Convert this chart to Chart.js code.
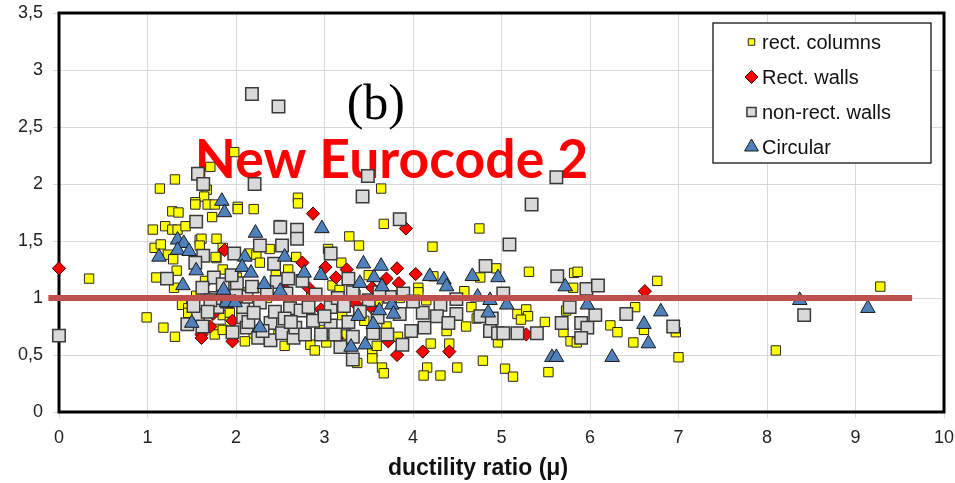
<!DOCTYPE html>
<html>
<head>
<meta charset="utf-8">
<script src="https://cdn.jsdelivr.net/npm/chart.js@4.4.1/dist/chart.umd.min.js"></script>
<style>
  html, body { margin: 0; padding: 0; background: #fff; }
  #wrap { width: 955px; height: 483px; }
</style>
</head>
<body>
<div id="wrap"><canvas id="ductilityChart" width="955" height="483"></canvas></div>
<script>
// [ductility ratio, test / prediction] per specimen
const rectColumns = [
  [0.34, 1.17], [0.99, 0.83], [1.18, 0.74], [1.31, 0.66],
  [1.06, 1.60], [1.20, 1.63], [1.28, 1.60], [1.34, 1.60], [1.43, 1.63],
  [1.08, 1.44], [1.15, 1.47], [1.23, 1.38], [1.29, 1.34], [1.33, 1.24], [1.10, 1.18], [1.30, 1.09],
  [1.14, 1.96], [1.31, 2.04], [1.28, 1.76], [1.35, 1.75],
  [1.71, 2.15], [1.98, 2.28], [1.67, 1.95], [1.64, 1.89], [1.54, 1.84], [1.54, 1.82], [1.68, 1.82],
  [1.76, 1.82], [1.73, 1.71], [2.02, 1.80], [2.02, 1.78], [2.20, 1.78],
  [2.70, 1.88], [2.70, 1.83], [2.49, 1.64],
  [1.59, 1.51], [1.61, 1.52], [1.78, 1.52], [1.59, 1.46], [1.78, 1.35], [1.85, 1.44], [1.77, 1.36],
  [2.16, 1.39], [2.23, 1.38], [2.38, 1.43], [2.27, 1.31], [2.68, 1.36], [2.59, 1.25], [1.85, 1.25],
  [2.01, 1.18], [2.28, 1.09],
  [1.39, 0.94], [1.46, 0.91], [1.46, 0.87], [1.85, 0.85], [1.93, 0.87], [1.93, 0.79], [1.81, 0.73],
  [1.76, 0.68], [1.85, 0.72], [2.20, 0.69], [2.48, 0.68],
  [2.84, 0.59], [2.89, 0.54], [3.02, 0.61], [3.25, 0.68],
  [3.28, 1.54], [3.04, 1.43], [3.39, 1.46], [3.19, 1.31], [3.09, 1.11], [3.17, 1.07],
  [3.64, 1.96], [3.67, 1.65], [4.22, 1.45], [4.75, 1.61],
  [4.23, 1.19], [4.06, 1.09], [4.06, 1.05], [4.94, 1.26], [4.76, 1.18], [5.31, 1.23], [5.82, 1.22],
  [5.86, 1.23], [5.81, 1.09],
  [4.58, 1.06], [4.66, 0.92], [4.60, 0.75], [4.72, 0.82], [5.18, 0.86], [5.28, 0.90], [5.30, 0.84],
  [5.22, 0.81], [5.49, 0.79], [4.96, 0.61],
  [4.79, 0.45], [5.04, 0.38], [5.13, 0.31], [5.53, 0.35], [4.50, 0.39],
  [4.38, 0.71], [4.41, 0.60], [4.20, 0.60], [4.16, 0.39], [4.12, 0.32], [4.31, 0.32],
  [3.54, 0.52], [3.54, 0.47], [3.65, 0.39], [3.67, 0.34], [3.37, 0.43], [3.59, 0.58], [3.83, 0.66],
  [5.70, 0.70], [5.78, 0.62], [5.85, 0.61], [5.73, 0.89], [6.23, 0.76], [6.31, 0.70],
  [6.51, 0.92], [6.76, 1.15], [6.61, 0.72], [6.49, 0.61], [6.97, 0.70], [7.00, 0.48],
  [8.10, 0.54], [9.28, 1.10],
  [1.55, 1.02], [1.70, 0.97], [2.05, 1.05], [2.35, 1.00], [2.60, 0.98], [2.85, 1.02], [3.10, 0.98],
  [3.35, 1.03], [3.60, 0.97], [3.85, 1.00], [4.15, 0.98], [2.40, 0.80], [2.95, 0.72], [3.45, 0.80],
  [3.70, 0.75], [2.10, 0.62], [2.55, 0.58], [3.20, 0.85], [1.65, 1.15], [2.45, 1.20], [3.50, 1.20]
];

const rectWalls = [
  [0.00, 1.26], [2.87, 1.74], [3.92, 1.61], [1.87, 1.42], [2.75, 1.31], [3.01, 1.27], [3.13, 1.18],
  [3.25, 1.25], [2.82, 1.09], [3.82, 1.26], [4.03, 1.21], [3.84, 1.13], [3.70, 1.17], [3.54, 1.09],
  [3.54, 0.91], [2.96, 0.90], [1.74, 0.86], [1.71, 0.75], [1.61, 0.68], [1.61, 0.65], [1.96, 0.80],
  [1.96, 0.62], [3.14, 0.65], [3.72, 0.62], [3.82, 0.50], [4.11, 0.53], [4.41, 0.53], [5.28, 0.68],
  [6.62, 1.06], [2.55, 1.08], [3.35, 0.95]
];

const nonRectWalls = [
  [0.00, 0.67], [2.18, 2.79], [2.48, 2.68], [1.57, 2.09], [1.63, 2.00], [2.21, 2.00], [1.55, 1.67],
  [2.50, 1.62], [2.69, 1.60], [2.69, 1.52],
  [3.49, 2.07], [3.43, 1.89], [3.85, 1.69], [5.62, 2.06], [5.34, 1.82], [5.09, 1.47], [3.07, 1.39],
  [1.63, 1.37], [1.98, 1.39], [2.27, 1.46], [2.52, 1.46], [2.43, 1.30], [1.54, 1.31], [1.22, 1.17],
  [1.75, 1.18], [1.62, 1.09], [2.01, 1.13],
  [2.46, 1.14], [2.59, 1.17], [3.27, 1.17], [4.82, 1.28], [5.63, 1.19], [5.96, 1.08], [6.09, 1.11],
  [3.32, 1.05], [3.74, 1.01], [3.89, 1.04], [4.31, 0.94], [4.49, 0.99], [5.02, 1.04],
  [1.57, 0.85], [1.45, 0.77], [1.62, 0.75], [1.96, 0.70], [2.08, 0.83], [2.08, 0.92], [1.79, 0.92],
  [1.77, 1.00], [1.71, 0.98],
  [2.12, 0.74], [2.14, 0.79], [2.25, 0.65], [2.39, 0.63], [2.39, 0.78], [2.52, 0.69], [2.65, 0.65],
  [2.67, 0.74], [2.78, 0.68], [2.87, 0.80],
  [2.27, 0.96], [2.44, 0.88], [2.61, 0.91], [2.73, 0.89], [2.12, 1.01], [2.57, 1.04], [3.07, 0.92],
  [3.07, 0.76], [3.27, 0.79], [2.96, 0.68], [3.18, 0.57],
  [3.32, 0.66], [3.32, 0.46], [3.71, 0.68], [3.88, 0.59], [3.85, 0.86], [3.98, 0.71], [4.13, 0.74],
  [4.11, 0.87], [4.27, 0.84], [4.49, 0.86],
  [4.76, 0.84], [4.89, 0.82], [4.87, 0.71], [4.96, 0.69], [5.02, 0.69], [5.18, 0.69], [5.40, 0.69],
  [5.77, 0.92], [5.68, 0.78], [5.90, 0.78], [5.97, 0.74], [5.90, 0.65], [6.06, 0.85], [6.41, 0.86],
  [6.94, 0.75], [8.42, 0.85],
  [2.35, 1.05], [2.90, 1.03], [3.15, 1.00], [3.50, 0.98], [2.00, 1.02], [1.90, 0.97], [3.40, 0.88],
  [2.55, 0.82], [2.20, 0.87], [3.60, 0.83], [4.00, 0.97], [1.85, 1.12],
  [1.52, 0.93], [1.68, 0.88], [2.30, 0.71], [2.62, 0.79], [2.82, 0.92], [3.00, 0.84], [3.22, 0.93],
  [3.55, 0.69], [3.12, 0.68], [2.18, 1.10], [2.75, 1.15], [3.62, 1.05], [4.40, 0.78], [1.95, 1.20]
];

const circular = [
  [1.84, 1.85], [1.87, 1.75], [2.22, 1.57], [2.97, 1.61],
  [1.34, 1.51], [1.41, 1.48], [1.34, 1.42], [1.47, 1.41], [1.13, 1.36], [2.10, 1.36], [2.07, 1.27],
  [2.55, 1.36], [1.55, 1.24], [1.40, 1.11], [2.17, 1.22], [2.32, 1.12], [2.50, 1.06], [2.77, 1.22],
  [2.96, 1.20], [1.86, 1.07], [1.89, 0.96], [1.99, 0.96], [1.50, 0.78], [2.27, 0.74],
  [3.44, 1.30], [3.64, 1.28], [3.40, 1.13], [3.56, 1.18], [3.65, 1.10], [4.19, 1.19], [4.35, 1.16],
  [4.38, 1.10], [4.67, 1.19], [4.96, 1.18],
  [3.76, 0.94], [3.62, 0.89], [3.78, 0.86], [3.38, 0.84], [3.55, 0.77], [3.46, 0.59], [3.30, 0.57],
  [4.73, 1.01], [4.87, 0.98], [5.06, 0.94], [4.85, 0.87],
  [5.57, 0.48], [5.62, 0.48], [6.25, 0.48], [5.72, 1.10], [5.97, 0.94], [6.80, 0.88], [6.61, 0.77],
  [6.66, 0.60], [8.37, 0.98], [9.14, 0.91]
];

// unity reference line
const unityLine = [[-0.12, 1.0], [9.64, 1.0]];

const seriesNames = ["rect. columns", "Rect. walls", "non-rect. walls", "Circular"];
const xRange = [0, 10, 1];
const yRange = [0, 3.5, 0.5];

function toPoints(list) {
  return list.map((p) => ({ x: p[0], y: p[1] }));
}

const markers = [
  { style: "rect", fill: "#ffff00", stroke: "#262626", width: 1, radius: 6.6, legendRadius: 4.6 },
  { style: "rectRot", fill: "#ff0000", stroke: "#3a0000", width: 1, radius: 6.6, legendRadius: 6.5 },
  { style: "rect", fill: "#d9d9d9", stroke: "#3a3a3a", width: 1.5, radius: 8.8, legendRadius: 6.5 },
  { style: "triangle", fill: "#4f81bd", stroke: "#1a1a1a", width: 1, radius: 8.4, legendRadius: 8 },
];

function drawMarker(ctx, m, x, y, r) {
  ctx.beginPath();
  if (m.style === "rect") {
    const s = r * Math.SQRT1_2;
    ctx.rect(x - s, y - s, 2 * s, 2 * s);
  } else if (m.style === "rectRot") {
    ctx.moveTo(x, y - r);
    ctx.lineTo(x + r, y);
    ctx.lineTo(x, y + r);
    ctx.lineTo(x - r, y);
    ctx.closePath();
  } else {
    const h = r * Math.sqrt(3) / 2;
    ctx.moveTo(x, y - r);
    ctx.lineTo(x + h, y + r / 2);
    ctx.lineTo(x - h, y + r / 2);
    ctx.closePath();
  }
  ctx.fillStyle = m.fill;
  ctx.fill();
  ctx.lineWidth = m.width;
  ctx.strokeStyle = m.stroke;
  ctx.stroke();
}

// frame and the in-plot captions, under the markers
const framePlugin = {
  id: "framePlugin",
  beforeDatasetsDraw(chart) {
    const { ctx, chartArea: a, scales } = chart;
    ctx.save();
    ctx.strokeStyle = "#000";
    ctx.lineWidth = 3;
    ctx.strokeRect(a.left, a.top, a.right - a.left, a.bottom - a.top);

    ctx.fillStyle = "#000";
    ctx.font = '50px "Liberation Serif"';
    ctx.textBaseline = "alphabetic";
    ctx.fillText("(b)", scales.x.getPixelForValue(3.25), scales.y.getPixelForValue(2.57));

    const left = scales.x.getPixelForValue(1.535);
    const right = scales.x.getPixelForValue(5.98);
    ctx.font = "bold 53px Lato";
    const w = ctx.measureText("New Eurocode 2").width;
    ctx.translate(left, scales.y.getPixelForValue(2.05));
    ctx.scale((right - left) / w, 1);
    ctx.fillStyle = "#ff0000";
    ctx.fillText("New Eurocode 2", 0, 0);
    ctx.restore();
  },
  afterDraw(chart) {
    const { ctx } = chart;
    ctx.save();
    // legend box
    const bx = 713, by = 23, bw = 218, bh = 140;
    ctx.fillStyle = "#fff";
    ctx.fillRect(bx, by, bw, bh);
    ctx.strokeStyle = "#000";
    ctx.lineWidth = 1.2;
    ctx.strokeRect(bx, by, bw, bh);
    ctx.font = '20px "Liberation Sans"';
    ctx.textBaseline = "middle";
    seriesNames.forEach((name, i) => {
      const cy = by + 19 + i * 35;
      drawMarker(ctx, markers[i], bx + 38.5, cy, markers[i].legendRadius);
      ctx.fillStyle = "#111";
      ctx.fillText(name, bx + 49, cy + 1);
    });

    // x axis title
    ctx.font = 'bold 23px "Liberation Sans"';
    ctx.textAlign = "center";
    ctx.textBaseline = "alphabetic";
    ctx.fillStyle = "#111";
    ctx.fillText("ductility ratio (\u03bc)", 478, 475);
    ctx.restore();
  },
};

function scatterSet(i, list, order) {
  const m = markers[i];
  return {
    label: seriesNames[i],
    data: toPoints(list),
    pointStyle: m.style,
    pointRadius: m.radius,
    pointBackgroundColor: m.fill,
    pointBorderColor: m.stroke,
    pointBorderWidth: m.width,
    showLine: false,
    clip: false,
    order: order,
  };
}

const ctx = document.getElementById("ductilityChart");

new Chart(ctx, {
  type: "scatter",
  data: {
    datasets: [
      {
        type: "line",
        label: "unity",
        data: toPoints(unityLine),
        borderColor: "#c0504d",
        borderWidth: 6,
        pointRadius: 0,
        fill: false,
        clip: false,
        order: 0,
      },
      scatterSet(3, circular, 1),
      scatterSet(2, nonRectWalls, 2),
      scatterSet(1, rectWalls, 3),
      scatterSet(0, rectColumns, 4),
    ],
  },
  options: {
    responsive: false,
    animation: false,
    layout: {
      padding: { top: 13, right: 11, left: 0, bottom: 0 },
    },
    plugins: {
      legend: { display: false },
      tooltip: { enabled: false },
    },
    scales: {
      x: {
        type: "linear",
        min: xRange[0],
        max: xRange[1],
        afterFit: function (scale) {
          scale.height = 71;
          scale.paddingLeft = 0;
          scale.paddingRight = 0;
        },
        ticks: {
          stepSize: xRange[2],
          color: "#222",
          padding: 9,
          font: { family: "Liberation Sans", size: 18 },
        },
        grid: { color: "#d9d9d9", lineWidth: 1, tickLength: 6 },
        border: { display: false },
      },
      y: {
        min: yRange[0],
        max: yRange[1],
        afterFit: function (scale) {
          scale.width = 59;
          scale.paddingTop = 0;
          scale.paddingBottom = 0;
        },
        ticks: {
          stepSize: yRange[2],
          color: "#222",
          padding: 10,
          font: { family: "Liberation Sans", size: 18 },
          callback: function (value) {
            return String(value).replace(".", ",");
          },
        },
        grid: { color: "#d9d9d9", lineWidth: 1, tickLength: 6 },
        border: { display: false },
      },
    },
  },
  plugins: [framePlugin],
});
</script>
</body>
</html>
